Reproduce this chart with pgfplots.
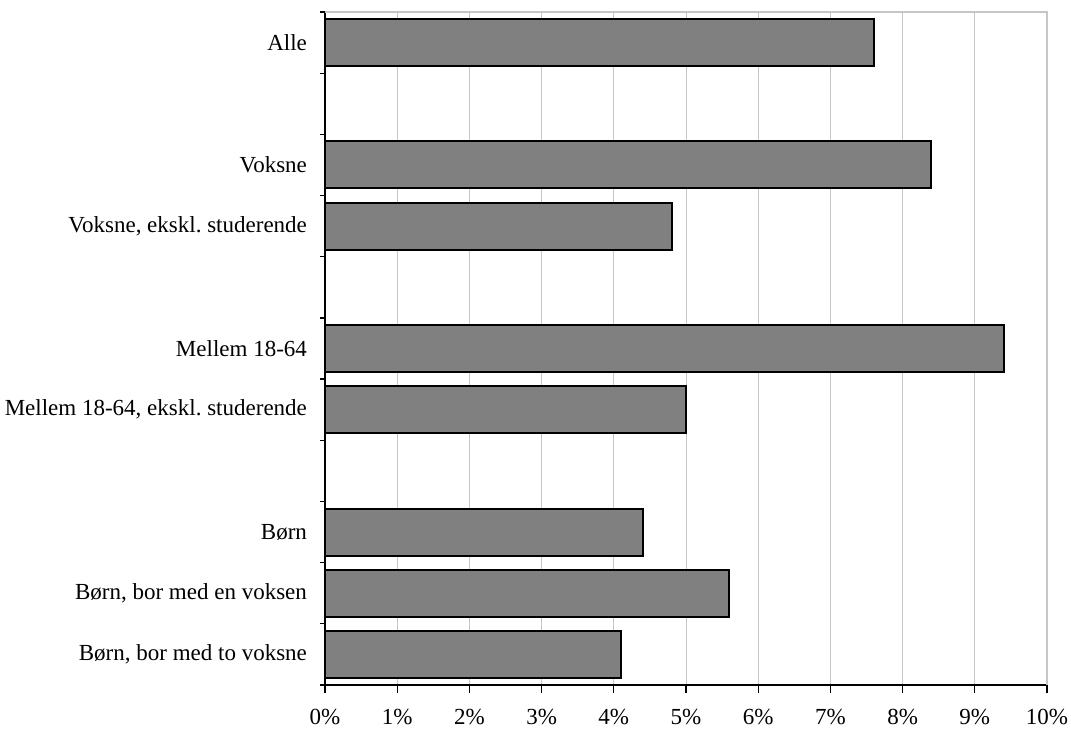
\documentclass[border=0pt]{standalone}
\usepackage{pgfplots}
\pgfplotsset{compat=1.18}
\usepackage{fontspec}
\setmainfont{Liberation Serif}
\frenchspacing
\begin{document}
\begin{tikzpicture}
\useasboundingbox (-162.5pt,-25pt) rectangle (373pt,342.5pt);
\begin{axis}[
  at={(0,0)}, anchor=south west,
  scale only axis, width=361pt, height=336.5pt,
  xbar, bar width=23.5pt,
  xmin=0, xmax=10, ymin=-0.5, ymax=10.5,
  axis x line*=bottom, axis y line*=left,
  axis line style={black, line width=0.6pt},
  xtick={0,1,...,10},
  xticklabel={\pgfmathprintnumber{\tick}\%},
  /pgf/number format/assume math mode=true,
  xtick align=outside, major x tick style={black, line width=0.6pt},
  xmajorgrids, major grid style={gray!45, line width=0.4pt},
  xticklabel style={font=\fontsize{11.5}{13}\selectfont, yshift=-4.5pt},
  ytick={0,1,2,4,5,7,8,10},
  yticklabels={{Børn, bor med to voksne},{Børn, bor med en voksen},Børn,
    {Mellem 18-64, ekskl. studerende},Mellem 18-64,
    {Voksne, ekskl. studerende},Voksne,Alle},
  major y tick style={draw=none},
  minor ytick={-0.5,0.5,...,10.5},
  minor y tick style={black, line width=0.6pt},
  ytick align=outside, minor tick length=2.5pt, major tick length=4pt,
  yticklabel style={font=\fontsize{11.5}{13}\selectfont, xshift=-1.5pt},
  clip=false,
]
\draw[gray!45, line width=0.6pt] (rel axis cs:0,1) -- (rel axis cs:1,1) -- (rel axis cs:1,0);
\addplot[fill=gray, draw=black, line width=1pt] coordinates {
  (7.6,10) (8.4,8) (4.8,7) (9.4,5) (5.0,4) (4.4,2) (5.6,1) (4.1,0)};
\end{axis}
\end{tikzpicture}
\end{document}
